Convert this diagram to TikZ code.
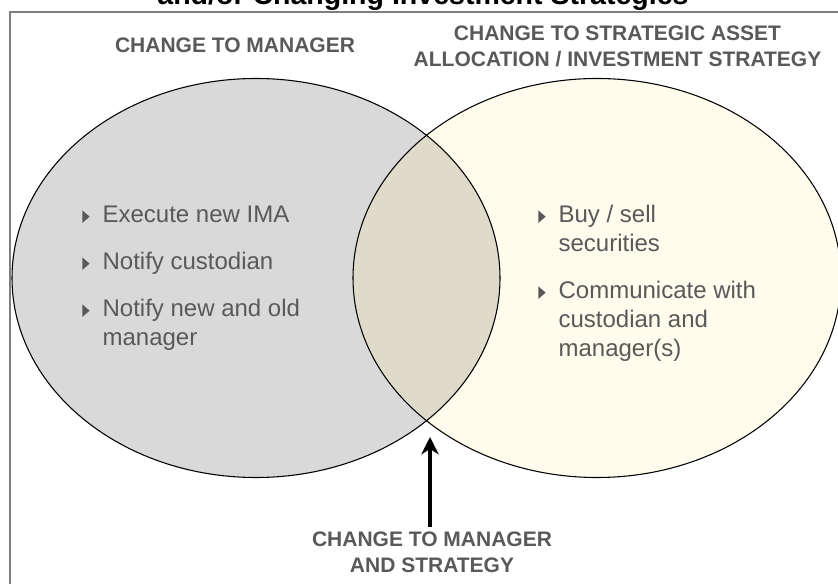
\documentclass[tikz,border=0pt]{standalone}
\usepackage{fontspec}
\setmainfont{Liberation Sans}
\usepackage{xcolor}
\usetikzlibrary{arrows.meta}

\definecolor{mgrfill}{HTML}{D9D9D9}
\definecolor{stratfill}{HTML}{FFFCEE}
\definecolor{bothfill}{HTML}{DFDBCB}
\definecolor{txtgray}{HTML}{595959}
\definecolor{framegray}{HTML}{7F7F7F}

\newcommand\tri{\tikz\fill[txtgray] (0,0) -- (0,9.5pt) -- (5.5pt,4.75pt) -- cycle;}

\tikzset{
  head/.style={font=\bfseries\fontsize{15.75}{19.5}\selectfont,text=txtgray,align=center,anchor=base},
  items/.style={font=\fontsize{18}{21.75}\selectfont,text=txtgray,anchor=base west,inner sep=0pt},
  venn/.style={x radius=244,y radius=199.5},
}

\begin{document}
\begin{tikzpicture}[x=0.75pt,y=-0.75pt]
  \useasboundingbox (0,0) rectangle (838,584);
  \clip (0,0) rectangle (838,584);
  \node (title) [anchor=base,font=\bfseries\fontsize{21.4}{25}\selectfont] at (423,5)
    {and/or Changing Investment Strategies};
  \draw[framegray,line width=0.9pt] (10,600) -- (10,12) -- (850,12);

  \coordinate (mgrc) at (256,278);
  \coordinate (stratc) at (597,278);
  \fill[mgrfill] (mgrc) ellipse [venn];
  \fill[stratfill] (stratc) ellipse [venn];
  \begin{scope}
    \clip (mgrc) ellipse [venn];
    \fill[bothfill] (stratc) ellipse [venn];
  \end{scope}
  \draw[line width=0.8pt] (mgrc) ellipse [venn];
  \draw[line width=0.8pt] (stratc) ellipse [venn];

  \node (mgrhead) [head] at (235,53) {CHANGE TO MANAGER};
  \node (strathead) [head] at (617.5,67) {CHANGE TO STRATEGIC ASSET\\ALLOCATION / INVESTMENT STRATEGY};

  \node (mgritems) [items] at (82,223) {\begin{tabular}[t]{@{}l@{\hspace{9.75pt}}l@{}}
    \tri & Execute new IMA\\[13.5pt]
    \tri & Notify custodian\\[13.5pt]
    \tri & Notify new and old\\
         & manager
  \end{tabular}};
  \node (stratitems) [items] at (538,223) {\begin{tabular}[t]{@{}l@{\hspace{9.75pt}}l@{}}
    \tri & Buy / sell\\
         & securities\\[13.5pt]
    \tri & Communicate with\\
         & custodian and\\
         & manager(s)
  \end{tabular}};

  \node (bothhead) [head] at (432,572) {CHANGE TO MANAGER\\AND STRATEGY};
  \coordinate (meet) at (430,437);
  \draw[line width=3pt,-{Stealth[length=13pt,width=13pt,inset=4pt]}] (bothhead.north -| meet) -- (meet);
\end{tikzpicture}
\end{document}
